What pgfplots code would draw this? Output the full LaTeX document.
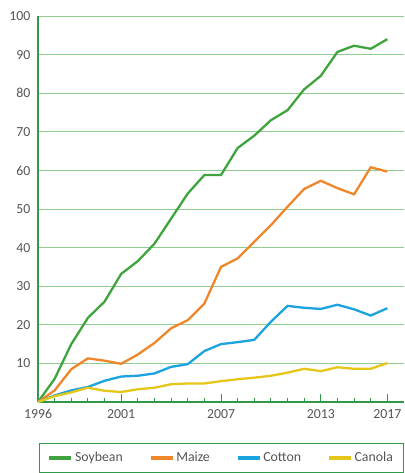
\documentclass[border=0pt]{standalone}
\usepackage{pgfplots}
\pgfplotsset{compat=1.18}
\usepackage{fontspec}
\setmainfont{Carlito}
\definecolor{soy}{HTML}{3FA43E}
\definecolor{maize}{HTML}{F0862A}
\definecolor{cotton}{HTML}{1BA3DF}
\definecolor{canola}{HTML}{E6C619}
\definecolor{gridg}{HTML}{8FCB8F}
\definecolor{axisg}{HTML}{2E9A4A}
\definecolor{txt}{HTML}{555555}
\begin{document}
\begin{tikzpicture}
\begin{axis}[
  scale only axis, width=366pt, height=386pt,
  xmin=1996, xmax=2018, ymin=0, ymax=100,
  axis x line=bottom, axis y line=left,
  axis line style={-, axisg, line width=1.2pt},
  xtick={1996,2001,2007,2013,2017},
  minor xtick={1997,...,2016},
  xticklabel style={/pgf/number format/1000 sep={}},
  /pgf/number format/assume math mode=true,
  ytick={10,20,...,100},
  ymajorgrids, grid style={gridg, line width=0.9pt},
  xtick align=inside,
  major tick length=8pt, minor tick length=4pt,
  every tick/.style={axisg, line width=0.9pt},
  ytick style={draw=none},
  tick label style={font=\fontsize{13.8}{15}\selectfont, text=txt},
  xticklabel style={yshift=-4pt},
  legend columns=4,
  legend style={at={(0.003,-0.1075)}, anchor=north west, draw=axisg, line width=0.8pt,
    font=\fontsize{13.8}{15}\selectfont, text=txt, inner xsep=8pt, inner ysep=6.5pt,
    nodes={inner xsep=2pt},
    /tikz/every even column/.append style={column sep=24pt}},
  legend image code/.code={\draw[#1, line width=3.5pt] (0pt,0pt) -- (22pt,0pt);},
  clip=false,
]
\addplot[soy, line width=2.3pt] coordinates {
(1996,0)(1997,6)(1998,15)(1999,21.8)(2000,26)(2001,33.2)(2002,36.5)(2003,41)(2004,47.5)(2005,54)(2006,58.8)(2007,58.8)(2008,65.8)(2009,69)(2010,73)(2011,75.6)(2012,81)(2013,84.5)(2014,90.7)(2015,92.3)(2016,91.5)(2017,94)};
\addlegendentry{Soybean}
\addplot[maize, line width=2.3pt] coordinates {
(1996,0)(1997,3)(1998,8.5)(1999,11.3)(2000,10.7)(2001,9.9)(2002,12.3)(2003,15.3)(2004,19.1)(2005,21.2)(2006,25.5)(2007,35)(2008,37.2)(2009,41.5)(2010,45.8)(2011,50.6)(2012,55.2)(2013,57.3)(2014,55.4)(2015,53.8)(2016,60.8)(2017,59.7)};
\addlegendentry{Maize}
\addplot[cotton, line width=2.3pt] coordinates {
(1996,0)(1997,1.7)(1998,3)(1999,3.9)(2000,5.5)(2001,6.6)(2002,6.8)(2003,7.4)(2004,9.1)(2005,9.8)(2006,13.2)(2007,15)(2008,15.5)(2009,16.1)(2010,20.8)(2011,24.9)(2012,24.4)(2013,24.1)(2014,25.2)(2015,24)(2016,22.4)(2017,24.3)};
\addlegendentry{Cotton}
\addplot[canola, line width=2.3pt] coordinates {
(1996,0)(1997,1.5)(1998,2.5)(1999,3.7)(2000,2.9)(2001,2.6)(2002,3.3)(2003,3.7)(2004,4.6)(2005,4.8)(2006,4.8)(2007,5.4)(2008,5.9)(2009,6.3)(2010,6.8)(2011,7.6)(2012,8.6)(2013,8)(2014,9)(2015,8.6)(2016,8.6)(2017,10.1)};
\addlegendentry{Canola}
\end{axis}
\pgfresetboundingbox
\useasboundingbox (-38pt,-71pt) rectangle (366pt,402pt);
\end{tikzpicture}
\end{document}
